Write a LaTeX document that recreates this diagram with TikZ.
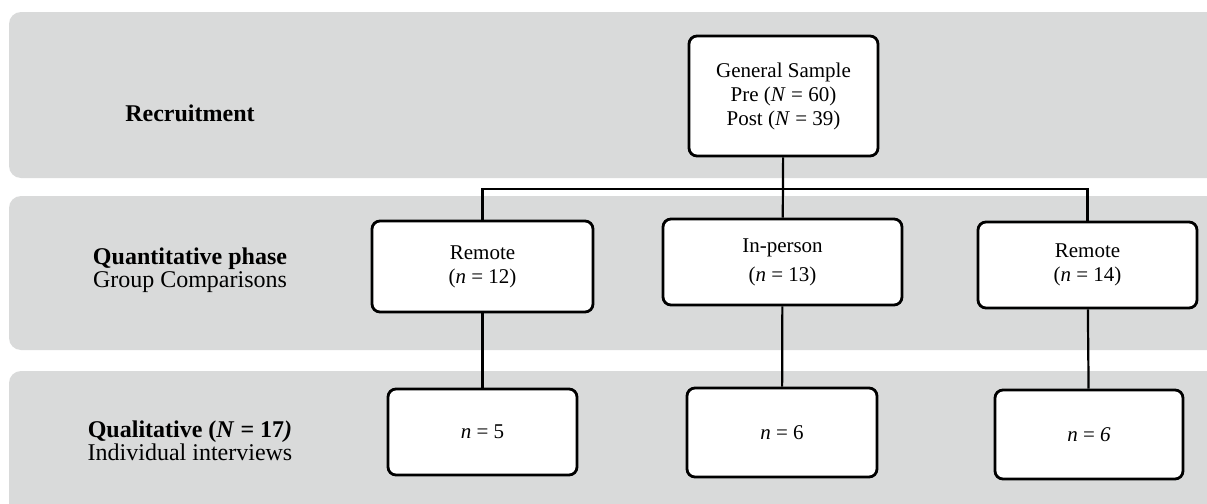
\documentclass[tikz,border=0pt]{standalone}
\usepackage{fontspec}
\setmainfont{Liberation Serif}
\definecolor{bandgrey}{RGB}{217,218,218}

\begin{document}
\begin{tikzpicture}[node distance=84pt]
    \tikzstyle{band} = [fill=bandgrey, rounded corners=6pt]
    \tikzstyle{phase} = [align=center, font=\fontsize{12}{11.5}\selectfont]
    \tikzstyle{group} = [rectangle, draw, fill=white, line width=1.4pt, rounded corners=4pt,
                                      align=center, inner sep=0pt, minimum width=110pt,
                                      minimum height=43pt, font=\fontsize{10.5}{12}\selectfont]
    \tikzstyle{link} = [line width=1.1pt]
  \useasboundingbox (0,0) rectangle (603.5pt,-252pt);
  % grey bands for the three phases
  \fill[band] (4.5pt,-6pt) rectangle (625pt,-89pt);
  \fill[band] (4.5pt,-98pt) rectangle (625pt,-175pt);
  \fill[band] (4.5pt,-185.5pt) rectangle (625pt,-270pt);
  \node[phase] (recr) at (95pt,-56.5pt) {\textbf{Recruitment}};
  \node[phase] (quan) at (95pt,-135pt) {\textbf{Quantitative phase}\\Group Comparisons};
  \node[phase] (qual) at (95pt,-220.5pt) {\textbf{Qualitative (\textit{N} = 17\textit{)}}\\Individual interviews};
  % boxes
  \node[group, minimum width=94.5pt, minimum height=60pt] (GS) at (391.75pt,-48pt) {General Sample\\Pre (\textit{N} = 60)\\Post (\textit{N} = 39)};
  \node[group, below of=GS, xshift=-150.5pt, yshift=-1.25pt, minimum width=110.5pt, minimum height=45.5pt] (R1) {Remote\\(\textit{n} = 12)};
  \node[group, below of=GS, xshift=-0.5pt, yshift=1pt, minimum width=119.5pt] (IP) {In-person\\[2.5pt](\textit{n} = 13)};
  \node[group, below of=GS, xshift=152pt, yshift=-0.5pt, minimum width=109.5pt] (R2) {Remote\\(\textit{n} = 14)};
  \node[group, below of=R1, yshift=1.25pt, minimum width=94.5pt] (S1) {\textit{n} = 5};
  \node[group, below of=IP, xshift=-0.25pt, yshift=-1.25pt, minimum width=95pt, minimum height=44.5pt] (S2) {\textit{n} = 6};
  \node[group, below of=R2, xshift=0.75pt, yshift=-0.75pt, minimum width=94pt, minimum height=44.5pt] (S3) {\textit{n} = \textit{6}};
  \coordinate (bar) at (391.75pt,-94.5pt);
  \draw[link] (GS) -- (IP);
  \draw[link] (R1.north) |- (bar) -| (R2.north);
  \draw[link] (R1) -- (S1);
  \draw[link] (IP) -- (S2);
  \draw[link] (R2) -- (S3);
  \end{tikzpicture}
\end{document}
